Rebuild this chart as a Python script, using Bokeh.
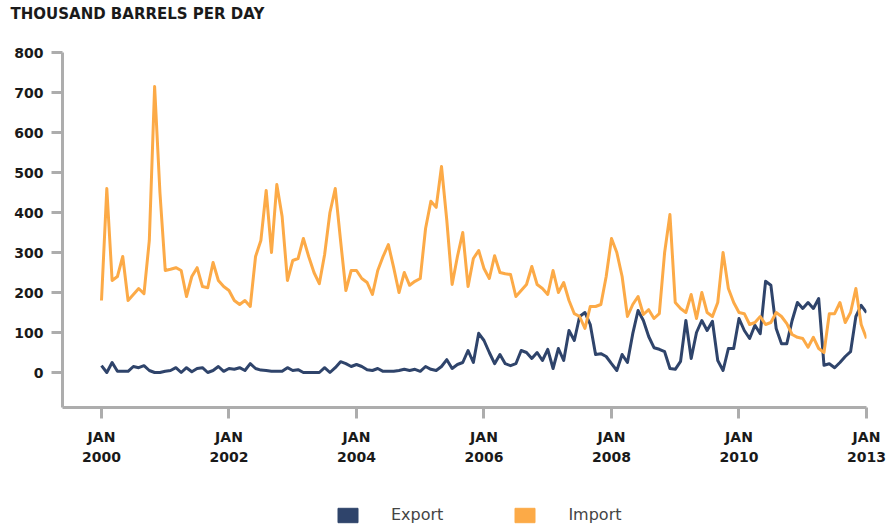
from bokeh.plotting import figure
from bokeh.layouts import column
from bokeh.models import Range1d, FixedTicker, Legend, LegendItem
from bokeh.embed import file_html
from bokeh.resources import INLINE

# month index 0 = Jan 2000 ... 144 = last point
months = list(range(145))

import_vals = [
    180, 460, 230, 240, 290, 180, 195, 210, 197, 330,
    715, 450, 255, 258, 262, 255, 190, 240, 262, 215,
    212, 275, 230, 215, 205, 180, 170, 180, 165, 290,
    330, 455, 300, 470, 390, 230, 280, 285, 335, 290,
    250, 222, 295, 400, 460, 330, 205, 255, 255, 235,
    225, 195, 255, 290, 320, 262, 200, 250, 218, 228,
    235, 360, 428, 413, 515, 380, 220, 290, 350, 215,
    285, 305, 260, 235, 292, 250, 247, 245, 190, 205,
    220, 265, 220, 210, 195, 255, 200, 225, 180, 147,
    140, 110, 165, 165, 170, 240, 335, 300, 240, 140,
    170, 190, 145, 157, 135, 147, 300, 395, 175, 160,
    150, 195, 135, 200, 150, 140, 175, 300, 210, 175,
    150, 147, 120, 125, 140, 120, 125, 150, 140, 122,
    95, 88, 85, 63, 88, 60, 50, 147, 147, 175,
    125, 150, 210, 120, 85,
]

export_vals = [
    17, 0, 25, 3, 3, 3, 15, 12, 17, 5,
    0, 0, 3, 5, 12, 0, 12, 2, 10, 12,
    0, 5, 15, 3, 10, 8, 12, 5, 22, 10,
    6, 5, 3, 3, 3, 12, 5, 7, 0, 0,
    0, 0, 12, 0, 12, 27, 22, 15, 20, 15,
    7, 5, 10, 3, 3, 3, 5, 8, 5, 8,
    3, 15, 8, 5, 15, 32, 10, 20, 25, 55,
    25, 98, 80, 50, 22, 45, 22, 17, 22, 55,
    50, 35, 50, 30, 58, 10, 60, 30, 105, 80,
    140, 150, 120, 45, 47, 40, 22, 5, 45, 25,
    97, 155, 130, 90, 62, 58, 52, 10, 8, 28,
    130, 35, 100, 130, 105, 128, 30, 5, 60, 60,
    135, 105, 85, 118, 97, 228, 218, 110, 72, 72,
    130, 175, 160, 175, 160, 185, 18, 22, 12, 25,
    40, 52, 140, 168, 150,
]

x_tick_pos = [0, 24, 48, 72, 96, 120, 144]
x_tick_labels = ["JAN\n2000", "JAN\n2002", "JAN\n2004", "JAN\n2006",
                 "JAN\n2008", "JAN\n2010", "JAN\n2013"]
y_ticks = [0, 100, 200, 300, 400, 500, 600, 700, 800]

series_names = ["Export", "Import"]
title_text = "THOUSAND BARRELS PER DAY"
navy = "#2f446b"
orange = "#fcaa47"
axis_gray = "#adadad"

p = figure(width=893, height=490, output_backend="svg", toolbar_location=None,
           x_range=Range1d(-7.34, 144), y_range=Range1d(-87.5, 800),
           min_border_left=62, min_border_right=27, min_border_top=52,
           min_border_bottom=83)

p.outline_line_color = None
p.xgrid.grid_line_color = None
p.ygrid.grid_line_color = None
p.background_fill_color = "white"

p.line(months, export_vals, line_color=navy, line_width=3, line_join="round")
p.line(months, import_vals, line_color=orange, line_width=3, line_join="round")

for ax in (p.xaxis[0], p.yaxis[0]):
    ax.axis_line_color = axis_gray
    ax.axis_line_width = 3
    ax.major_tick_line_color = axis_gray
    ax.major_tick_line_width = 3
    ax.major_tick_out = 11
    ax.major_tick_in = 0
    ax.minor_tick_line_color = None
    ax.major_label_text_font = "DejaVu Sans"
    ax.major_label_text_font_style = "bold"
    ax.major_label_text_font_size = "14px"
    ax.major_label_text_color = "#1a1a1a"

p.xaxis.ticker = FixedTicker(ticks=x_tick_pos)
p.xaxis.major_label_overrides = dict(zip(x_tick_pos, x_tick_labels))
p.xaxis.major_label_standoff = 10
p.xaxis.major_label_text_line_height = 1.3
p.yaxis.ticker = FixedTicker(ticks=y_ticks)
p.yaxis.major_label_standoff = 8

# title: extra blank lines lift the first line towards the top of the canvas
p.title.text = title_text + "\n \n "
p.title.align = "left"
p.title.offset = -52
p.title.standoff = 0
p.title.text_line_height = 0.83
p.title.text_font = "DejaVu Sans"
p.title.text_font_style = "bold"
p.title.text_font_size = "15px"
p.title.text_color = "#1a1a1a"

# legend strip below the chart
lg = figure(width=893, height=37, output_backend="svg", toolbar_location=None,
            x_range=Range1d(0, 1), y_range=Range1d(0, 1),
            x_axis_location=None, y_axis_location=None,
            min_border=0, min_border_left=0, min_border_right=0,
            min_border_top=0, min_border_bottom=0)
lg.outline_line_color = None
lg.grid.visible = False
nan = float("nan")
sw_exp = lg.quad(left=[nan], right=[nan], top=[nan], bottom=[nan],
                 fill_color=navy, line_color=navy)
sw_imp = lg.quad(left=[nan], right=[nan], top=[nan], bottom=[nan],
                 fill_color=orange, line_color=orange)

legend = Legend(items=[LegendItem(label=series_names[0], renderers=[sw_exp]),
                       LegendItem(label=series_names[1], renderers=[sw_imp])],
                orientation="horizontal", location=(273, 3),
                glyph_width=25, glyph_height=18, label_height=18,
                label_standoff=31, spacing=69,
                padding=0, margin=0, border_line_color=None,
                background_fill_alpha=0, label_text_font="DejaVu Sans",
                label_text_font_size="16px", label_text_color="#444444")
lg.add_layout(legend, "center")

layout = column(p, lg, spacing=0)
open("out.html", "w").write(file_html(layout, INLINE))
